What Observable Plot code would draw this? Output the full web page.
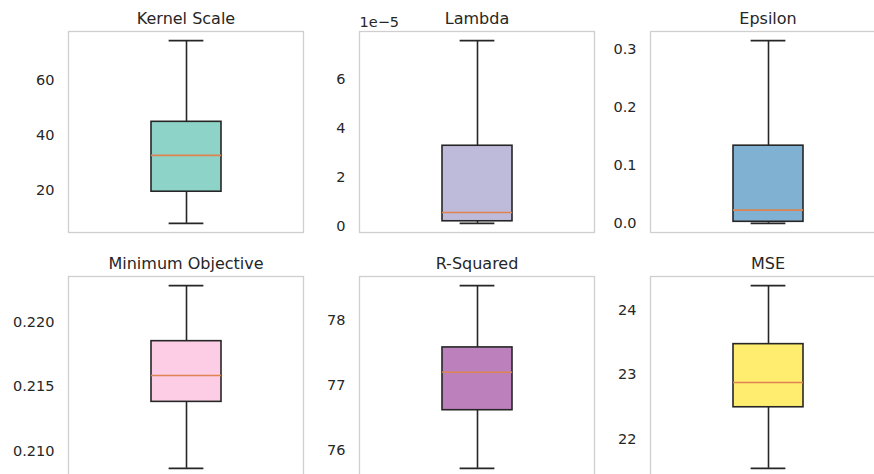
<!DOCTYPE html>
<html>
<head>
<meta charset="utf-8">
<script src="https://cdn.jsdelivr.net/npm/d3@7"></script>
<script src="https://cdn.jsdelivr.net/npm/@observablehq/plot@0.6"></script>
<style>
  html, body { margin: 0; padding: 0; background: #ffffff; }
  #chart { position: relative; width: 874px; height: 474px; overflow: hidden; background: #ffffff; }
  #chart svg { position: absolute; }
</style>
</head>
<body>
<div id="chart"></div>
<script>
// ---- data ----
const titles = ["Kernel Scale", "Lambda", "Epsilon", "Minimum Objective", "R-Squared", "MSE"];
const whiskerLow  = [7.9,  0.13e-5, 0.0003, 0.20866, 75.73,  21.554];
const quartile1   = [19.4, 0.215e-5, 0.003, 0.21382, 76.623, 22.497];
const medians     = [32.6, 0.57e-5, 0.023,  0.21587, 77.205, 22.88];
const quartile3   = [44.8, 3.29e-5, 0.134,  0.21853, 77.587, 23.471];
const whiskerHigh = [74.3, 7.57e-5, 0.3148, 0.22284, 78.536, 24.374];
const tickValues = [
  [20, 40, 60],
  [0, 2e-5, 4e-5, 6e-5],
  [0, 0.1, 0.2, 0.3],
  [0.210, 0.215, 0.220],
  [76, 77, 78],
  [22, 23, 24]
];
const tickLabels = [
  ["20", "40", "60"],
  ["0", "2", "4", "6"],
  ["0.0", "0.1", "0.2", "0.3"],
  ["0.210", "0.215", "0.220"],
  ["76", "77", "78"],
  ["22", "23", "24"]
];
const offsetTexts = ["", "1e\u22125", "", "", "", ""];

// ---- styles ----
const palette = ["#8dd3c7", "#bebada", "#80b1d3", "#fccde5", "#bc80bd", "#ffed6f"];
const TEXT = "#262626";
const LINE = "#262626";
const MEDIAN = "#dd8452";
const FRAME = "#cfcfcf";

// ---- layout ----
const PW = 235, PH = 201;
const ML = 66, MR = 10, MT = 40, MB = 10;
const colLeft = [68, 359, 650];
const rowTop = [31, 276];
const capInset = PW * 0.3 / 4;

function panel(i) {
  const row = {name: titles[i], lo: whiskerLow[i], q1: quartile1[i], med: medians[i], q3: quartile3[i], hi: whiskerHigh[i]};
  const span = row.hi - row.lo;
  const domain = [row.lo - 0.05 * span, row.hi + 0.05 * span];
  const labels = new Map(tickValues[i].map((v, j) => [v, tickLabels[i][j]]));
  const lineOpts = {stroke: LINE, strokeWidth: 1.6};
  const marks = [
    Plot.frame({stroke: FRAME, strokeWidth: 1.3}),
    Plot.ruleX([row], {x: "name", y1: "lo", y2: "q1", ...lineOpts}),
    Plot.ruleX([row], {x: "name", y1: "q3", y2: "hi", ...lineOpts}),
    Plot.barY([row], {x: "name", y1: "q1", y2: "q3", fill: palette[i], ...lineOpts}),
    Plot.tickY([row], {x: "name", y: "lo", insetLeft: capInset, insetRight: capInset, ...lineOpts}),
    Plot.tickY([row], {x: "name", y: "hi", insetLeft: capInset, insetRight: capInset, ...lineOpts}),
    Plot.tickY([row], {x: "name", y: "med", stroke: MEDIAN, strokeWidth: 1.6}),
    Plot.axisY({ticks: tickValues[i], tickFormat: d => labels.get(d), tickSize: 0, tickPadding: 14,
                fontSize: 14.5, label: null, color: TEXT}),
    Plot.text([row.name], {frameAnchor: "top", lineAnchor: "bottom", dy: -8, fontSize: 16, fill: TEXT})
  ];
  if (offsetTexts[i]) {
    marks.push(Plot.text([offsetTexts[i]], {frameAnchor: "top-left", textAnchor: "start", lineAnchor: "bottom",
                                            dy: -5, fontSize: 14.5, fill: TEXT}));
  }
  const svg = Plot.plot({
    width: ML + PW + MR,
    height: MT + PH + MB,
    marginLeft: ML, marginRight: MR, marginTop: MT, marginBottom: MB,
    x: {type: "band", domain: [row.name], paddingInner: 0, paddingOuter: 7 / 6, axis: null},
    y: {domain, axis: null},
    style: {fontFamily: "'DejaVu Sans', sans-serif", fontSize: "14.5px", color: TEXT, background: "transparent", overflow: "visible"},
    marks
  });
  const c = i % 3, r = Math.floor(i / 3);
  svg.style.left = (colLeft[c] - ML) + "px";
  svg.style.top = (rowTop[r] - MT) + "px";
  return svg;
}

const chart = document.getElementById("chart");
titles.forEach((_, i) => chart.appendChild(panel(i)));
</script>
</body>
</html>
